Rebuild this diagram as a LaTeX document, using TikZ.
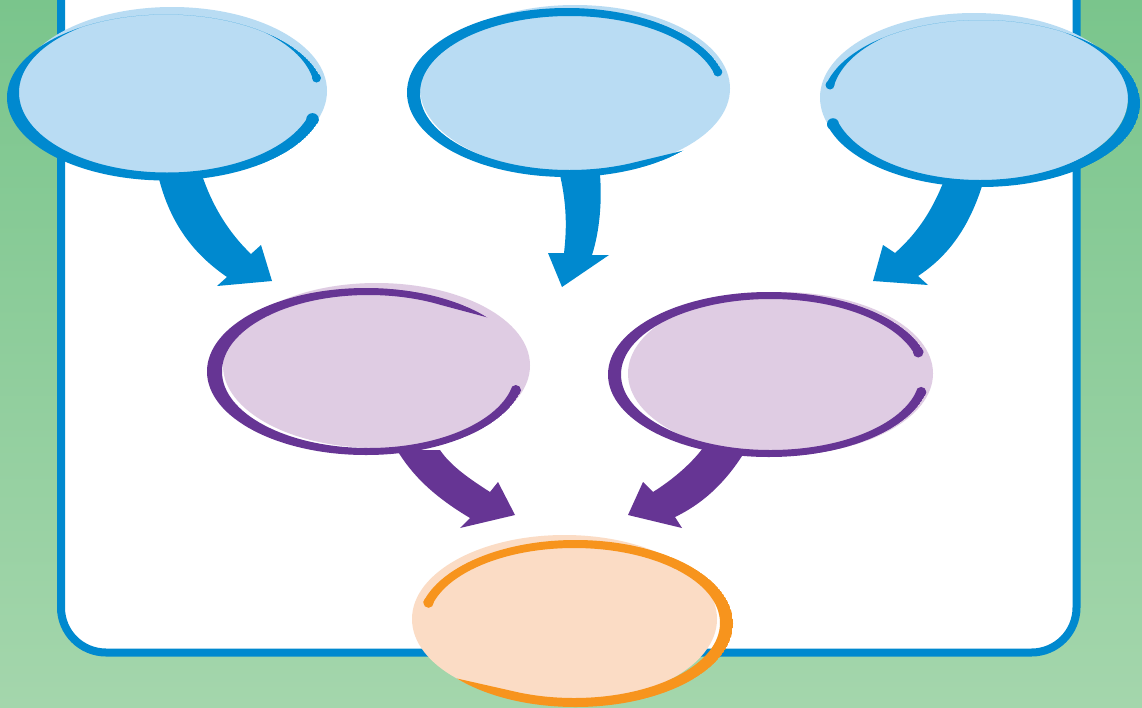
\documentclass[tikz,border=0pt]{standalone}
\definecolor{bblue}{HTML}{0089CF}
\definecolor{lblue}{HTML}{B9DCF3}
\definecolor{dpurple}{HTML}{663594}
\definecolor{lpurple}{HTML}{DFCCE3}
\definecolor{dorange}{HTML}{F7941D}
\definecolor{lpeach}{HTML}{FBDCC5}
\definecolor{gdark}{HTML}{7AC58C}
\definecolor{glight}{HTML}{A4D6AC}
% clip keeping everything except the wedge between angles #2 and #3 around centre #1
\newcommand\mygap[3]{\clip[shift={(#1)}] (0,0) -- (#3:700pt) -- ({#3+90}:700pt) -- ({#3+180}:700pt) -- ({#3+270}:700pt) -- ({#2+360}:700pt) -- cycle;}
\begin{document}
\begin{tikzpicture}[x=1pt,y=-1pt]
\useasboundingbox (0,0) rectangle (1142,707);
% background
\shade[top color=gdark, bottom color=glight] (0,0) rectangle (1142,707);
% panel
\draw[bblue, line width=8pt, fill=white, rounded corners=45pt] (61,-80) rectangle (1076.5,652.5);
% centres
\coordinate (t1) at (172,91);
\coordinate (t2) at (575,88.5);
\coordinate (t3) at (974,97.5);
\coordinate (m1) at (376.5,365.5);
\coordinate (m2) at (780.5,373.5);
\coordinate (b1) at (564.5,619);
% arrows
\fill[bblue] (158,175) .. controls (170,225) and (195,255) .. (227,277) -- (217,286) -- (272,281) -- (261,245) -- (251,254) .. controls (228,232) and (212,205) .. (202,175) -- cycle;
\fill[bblue] (560,175) .. controls (568,210) and (566,235) .. (564,253) -- (548,253) -- (562,287) -- (609,255) -- (592,255) .. controls (600,230) and (602,200) .. (600,175) -- cycle;
\fill[bblue] (943,183) .. controls (930,215) and (915,235) .. (895,253) -- (883,245) -- (873,281) -- (928,285) -- (918,276) .. controls (950,255) and (970,225) .. (983,183) -- cycle;
\fill[dpurple] (397,450) .. controls (415,480) and (440,500) .. (470,518) -- (460,528) -- (515,515) -- (498,482) -- (490,492) .. controls (468,478) and (450,465) .. (440,450) -- cycle;
\fill[dpurple] (703,448) .. controls (690,465) and (672,480) .. (653,492) -- (643,482) -- (628,515) -- (682,528) -- (675,517) .. controls (700,505) and (725,485) .. (747,448) -- cycle;
% ellipse fills
\fill[lblue] (t1) ellipse [x radius=155pt, y radius=84pt];
\fill[lblue] (t2) ellipse [x radius=155pt, y radius=83.5pt];
\fill[lblue] (t3) ellipse [x radius=154pt, y radius=84.5pt];
\fill[lpurple] (m1) ellipse [x radius=153.5pt, y radius=82.5pt];
\fill[lpurple] (m2) ellipse [x radius=152.5pt, y radius=81.5pt];
\fill[lpeach] (b1) ellipse [x radius=152.5pt, y radius=84pt];
% ring 1
\begin{scope}
\mygap{166,97.5}{-8.5}{7.4}
\clip (166,97.5) ellipse [x radius=159pt, y radius=83pt];
\fill[bblue, even odd rule] (166,97.5) ellipse [x radius=159pt, y radius=83pt] (167,92.5) ellipse [x radius=148pt, y radius=80pt];
\end{scope}
\fill[bblue] (316.5,78) circle [radius=4.5pt] (312.5,119.4) circle [radius=6.3pt];
% ring 2
\begin{scope}
\clip (567,92.5) -- ([shift={(567,92.5)}]7.6:700pt) -- ([shift={(567,92.5)}]97.6:700pt) -- ([shift={(567,92.5)}]187.6:700pt) -- ([shift={(567,92.5)}]277.6:700pt) -- (760.8,132) -- (683,150.7) -- (628.9,163.7) -- cycle;
\clip (567,92.5) ellipse [x radius=160pt, y radius=84.5pt];
\fill[bblue, even odd rule] (567,92.5) ellipse [x radius=160pt, y radius=84.5pt] (569.5,93) ellipse [x radius=149.5pt, y radius=77pt];
\end{scope}
\fill[bblue] (717.8,72) circle [radius=4.5pt];
% ring 3
\begin{scope}
\mygap{981,103.5}{173}{188}
\clip (981,103.5) ellipse [x radius=159pt, y radius=83.5pt];
\fill[bblue, even odd rule] (981,103.5) ellipse [x radius=159pt, y radius=83.5pt] (980,99) ellipse [x radius=148pt, y radius=81pt];
\end{scope}
\fill[bblue] (830,85) circle [radius=4.5pt] (833,124.2) circle [radius=6pt];
% ring 4
\begin{scope}
\clip (366,371.5) -- ([shift={(366,371.5)}]-7.1:700pt) -- ([shift={(366,371.5)}]-97.1:700pt) -- ([shift={(366,371.5)}]-187.1:700pt) -- ([shift={(366,371.5)}]-277.1:700pt) -- (564.4,338) -- (487,317.3) -- (431.6,302.5) -- cycle;
\clip (366,371.5) ellipse [x radius=159pt, y radius=83.5pt];
\fill[dpurple, even odd rule] (366,371.5) ellipse [x radius=159pt, y radius=83.5pt] (368.5,371.5) ellipse [x radius=146.5pt, y radius=76.5pt];
\end{scope}
\fill[dpurple] (515.8,390.2) circle [radius=5.2pt];
% ring 5
\begin{scope}
\mygap{769,374.5}{-6.6}{8.5}
\clip (769,374.5) ellipse [x radius=161pt, y radius=82.5pt];
\fill[dpurple, even odd rule] (769,374.5) ellipse [x radius=161pt, y radius=82.5pt] (770.5,374.5) ellipse [x radius=149.5pt, y radius=75.5pt];
\end{scope}
\fill[dpurple] (918.2,352.2) circle [radius=5.3pt] (921.1,392.1) circle [radius=5.2pt];
% ring 6
\begin{scope}
\clip (575.5,623.5) -- ([shift={(575.5,623.5)}]171.9:700pt) -- ([shift={(575.5,623.5)}]81.9:700pt) -- ([shift={(575.5,623.5)}]-8.1:700pt) -- ([shift={(575.5,623.5)}]-98.1:700pt) -- (379,660.9) -- (457,678.5) -- (512.3,691) -- cycle;
\clip (575.5,623.5) ellipse [x radius=157.5pt, y radius=83.5pt];
\fill[dorange, even odd rule] (575.5,623.5) ellipse [x radius=157.5pt, y radius=83.5pt] (574,623) ellipse [x radius=146pt, y radius=75pt];
\end{scope}
\fill[dorange] (428.5,602.6) circle [radius=5.2pt];
\end{tikzpicture}
\end{document}
